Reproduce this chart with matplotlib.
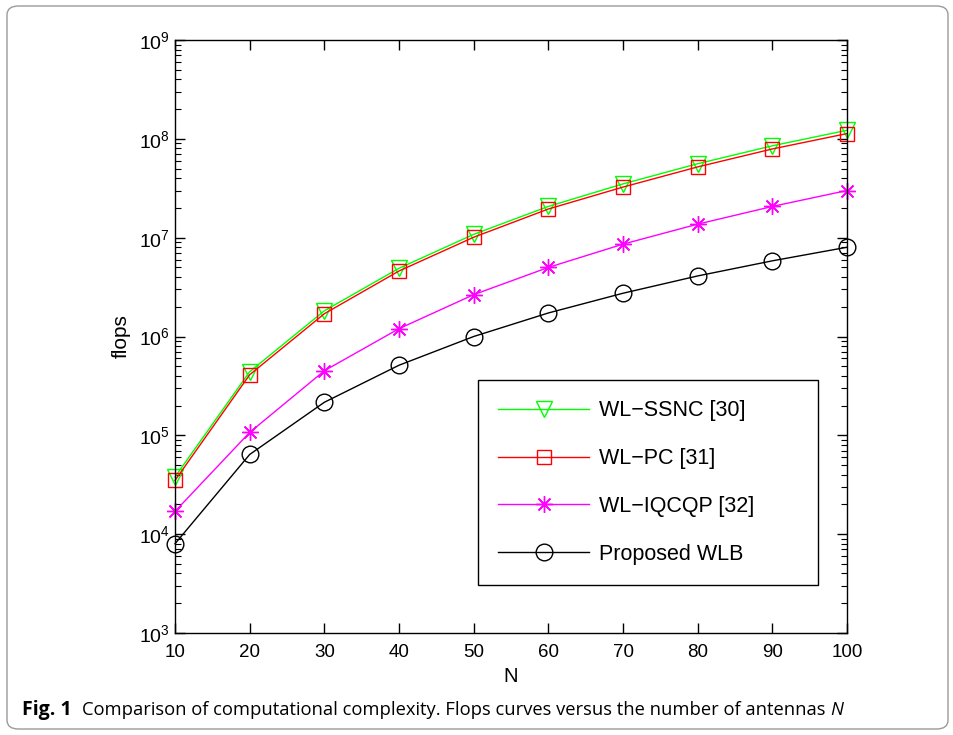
import matplotlib
matplotlib.use("Agg")
import matplotlib.pyplot as plt
from matplotlib.patches import FancyBboxPatch
from matplotlib.ticker import LogLocator, FixedLocator

plt.rcParams['font.family'] = ['Liberation Sans', 'DejaVu Sans']
plt.rcParams['mathtext.fontset'] = 'custom'
plt.rcParams['mathtext.rm'] = 'Liberation Sans'
plt.rcParams['mathtext.it'] = 'Liberation Sans:italic'

N = [10, 20, 30, 40, 50, 60, 70, 80, 90, 100]
ssnc = [3.8e4, 4.4e5, 1.82e6, 4.9e6, 1.08e7, 2.07e7, 3.5e7, 5.6e7, 8.5e7, 1.22e8]
pc = [3.5e4, 4.1e5, 1.7e6, 4.6e6, 1.01e7, 1.95e7, 3.25e7, 5.2e7, 7.9e7, 1.13e8]
iqcqp = [1.7e4, 1.07e5, 4.5e5, 1.2e6, 2.65e6, 5.0e6, 8.6e6, 1.37e7, 2.07e7, 3.0e7]
wlb = [8.0e3, 6.4e4, 2.16e5, 5.12e5, 1.0e6, 1.73e6, 2.74e6, 4.1e6, 5.83e6, 8.0e6]
labels = ['WL\u2212SSNC [30]', 'WL\u2212PC [31]', 'WL\u2212IQCQP [32]', 'Proposed WLB']
xticks = [10, 20, 30, 40, 50, 60, 70, 80, 90, 100]

fig = plt.figure(figsize=(9.54, 7.35), dpi=100)
W, H = 954, 735
ax = fig.add_axes([175 / W, 1 - 633 / H, (847 - 175) / W, (633 - 40) / H])

common = dict(lw=1.0, mfc='none', mew=1.0, clip_on=False)
ax.plot(N, ssnc, color='#00ff00', marker='v', ms=11, mec='#00ff00', label=labels[0], zorder=3, **common)
ax.plot(N, pc, color='#ff0000', marker='s', ms=10, mec='#ff0000', label=labels[1], zorder=4, **common)
ax.plot(N, iqcqp, color='#ff00ff', marker=(8, 2, 0), ms=12, mec='#ff00ff', label=labels[2], zorder=3, **common)
ax.plot(N, wlb, color='black', marker='o', ms=12, mec='black', label=labels[3], zorder=3, **common)

ax.set_yscale('log')
ax.set_xlim(10, 100)
ax.set_ylim(1e3, 1e9)
ax.set_xticks(xticks)
ax.set_xticklabels([str(v) for v in xticks])
ax.yaxis.set_major_locator(FixedLocator([10.0 ** k for k in range(3, 10)]))
ax.set_yticklabels([r'$\mathregular{10^{%d}}$' % k for k in range(3, 10)])
ax.yaxis.set_minor_locator(LogLocator(base=10, subs=range(2, 10), numticks=20))
ax.tick_params(which='both', direction='in', top=True, right=True, labelsize=13.5)
ax.tick_params(axis='y', labelsize=14)
ax.tick_params(which='major', length=7, width=1.0)
ax.tick_params(which='minor', length=4, width=0.8)
ax.tick_params(axis='x', pad=8)
for s in ax.spines.values():
    s.set_linewidth(1.0)
    s.set_zorder(5)

ax.set_xlabel('N', fontsize=14.5, labelpad=4)
ax.set_ylabel('flops', fontsize=15, labelpad=6)

AW, AH = 672.0, 593.0
leg = ax.legend(loc='lower left',
                bbox_to_anchor=((478 - 175) / AW, (633 - 585) / AH, (818 - 478) / AW, 0.1),
                mode='expand',
                fontsize=15.5, frameon=True, fancybox=False, edgecolor='black',
                handlelength=4.2, labelspacing=1.24, borderpad=0.95, handletextpad=0.45,
                borderaxespad=0, framealpha=1)
leg.get_frame().set_linewidth(1.0)

# figure border
fig.patches.append(FancyBboxPatch((7 / W, 6 / H), (W - 13) / W, (H - 12) / H,
                                  boxstyle='round,pad=0,rounding_size=0.012',
                                  transform=fig.transFigure, fill=False,
                                  edgecolor='#9a9a9a', lw=1.0))

cap_font = ['Open Sans', 'DejaVu Sans']
t1 = fig.text(22 / W, 1 - 710 / H, 'Fig. 1', fontsize=14, fontweight='bold',
              family=cap_font, va='center', ha='left')
t2 = fig.text(82 / W, 1 - 710 / H,
              'Comparison of computational complexity. Flops curves versus the number of antennas ',
              fontsize=13, family=cap_font, va='center', ha='left')
fig.canvas.draw()
r = fig.canvas.get_renderer()
w = t2.get_window_extent(r).width
fs = 13 * 746.0 / w
t2.set_fontsize(fs)
fig.canvas.draw()
bb = t2.get_window_extent(r)
fig.text(bb.x1 / W, 1 - 710 / H, 'N', fontsize=fs, family=cap_font, style='italic',
         va='center', ha='left')

fig.savefig('out.png', dpi=100)
